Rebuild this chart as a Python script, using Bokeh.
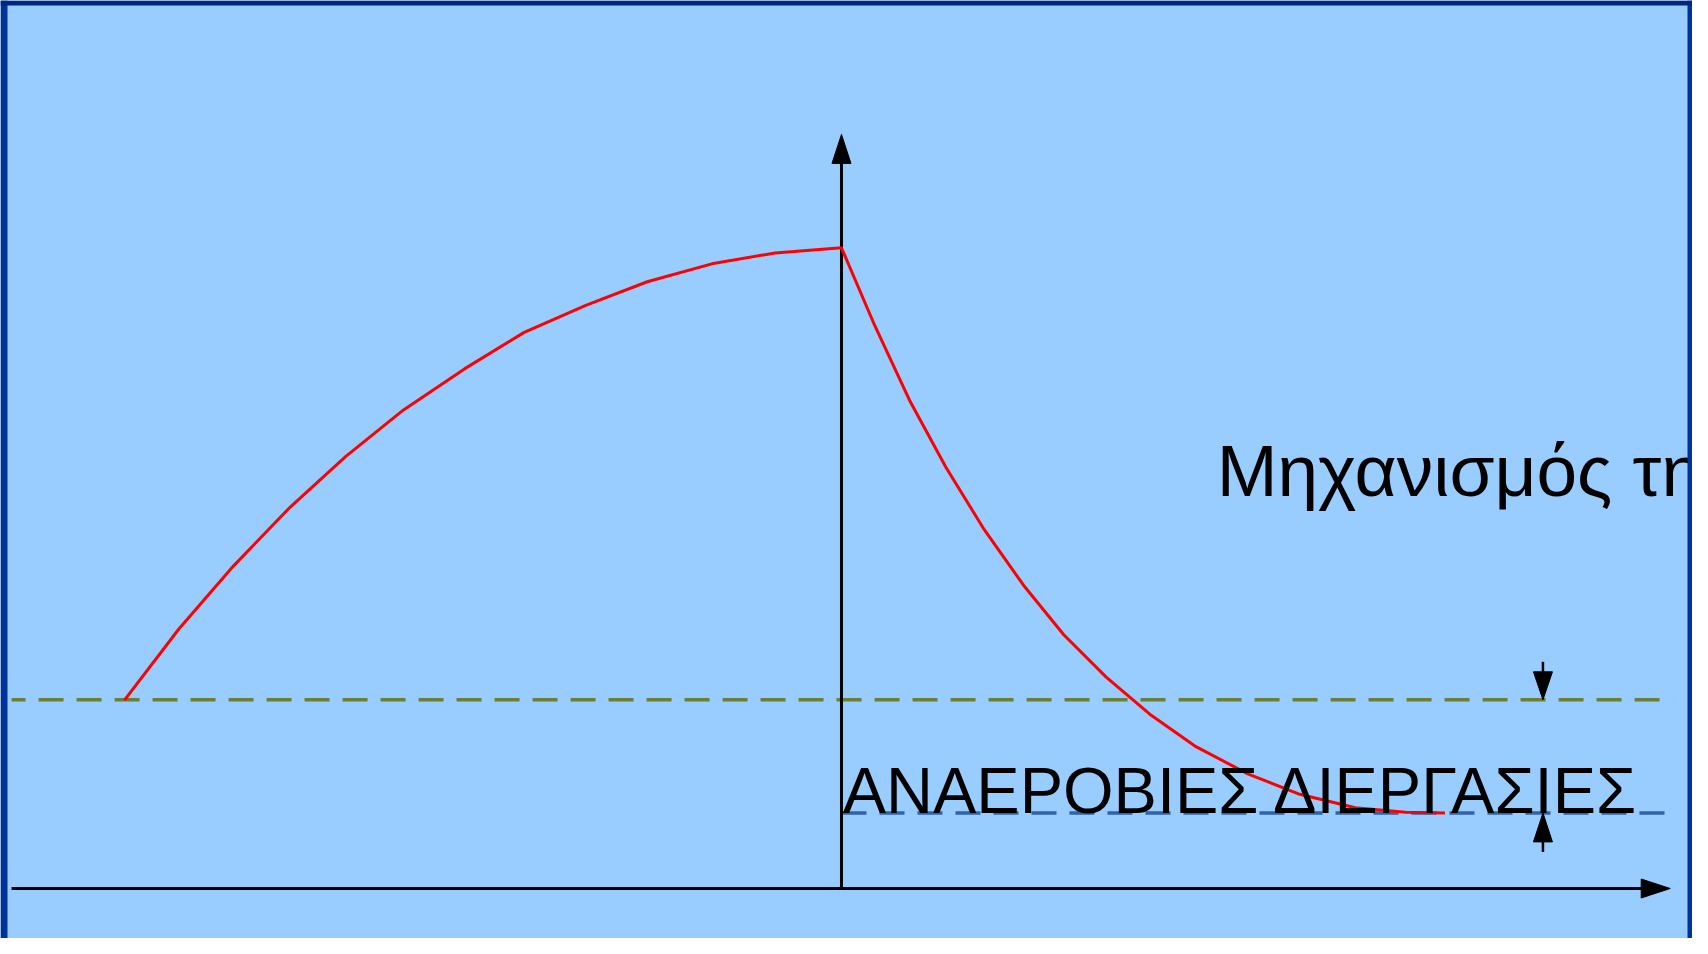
from bokeh.plotting import figure
from bokeh.models import Range1d, BoxAnnotation, ColumnDataSource
from bokeh.core.properties import value
from bokeh.embed import file_html
from bokeh.resources import INLINE

# ---------------- data ----------------
rise_time = [-12.00, -11.09, -10.17, -9.23, -8.30, -7.33, -6.31, -5.31, -4.28, -3.25, -2.17, -1.11, 0]
rise_level = [29.4, 40.5, 50.4, 59.5, 67.4, 74.7, 81.1, 86.8, 91.0, 94.7, 97.5, 99.2, 100.0]
fall_time = [0.56, 1.15, 1.75, 2.39, 3.05, 3.72, 4.43, 5.16, 5.94, 6.80, 7.67, 8.60, 9.44, 10.10]
fall_level = [87.8, 76.0, 65.7, 56.0, 47.3, 39.6, 33.0, 27.2, 22.1, 17.9, 14.7, 12.6, 11.9, 11.8]
upper_level = 29.45
lower_level = 11.8
title_label = "Μηχανισμός της"
band_label = "ΑΝΑΕΡΟΒΙΕΣ ΔΙΕΡΓΑΣΙΕΣ"

# ---------------- layout ----------------
W, H = 1692, 938
X0, X1 = -14.075, 14.243
Y0, Y1 = -7.804, 138.60
PXX = W / (X1 - X0)   # px per x unit
PXY = H / (Y1 - Y0)   # px per y unit

axis_x_start, axis_x_tip = -13.89, 13.87
axis_y_tip = 117.7
dash_x_end = 13.91
marker_x = 11.74

BG = "#99CCFF"
p = figure(width=W, height=H, x_range=Range1d(X0, X1), y_range=Range1d(Y0, Y1),
           output_backend="svg", toolbar_location=None, min_border=0,
           x_axis_location=None, y_axis_location=None,
           background_fill_color=BG, border_fill_color=BG, outline_line_color=None)
p.grid.visible = False


def head(tx, ty, direction, length=29, width=19):
    L, Wd = length, width / 2
    if direction == "right":
        return [tx, tx - L / PXX, tx - L / PXX], [ty, ty + Wd / PXY, ty - Wd / PXY]
    if direction == "up":
        return [tx, tx - Wd / PXX, tx + Wd / PXX], [ty, ty - L / PXY, ty - L / PXY]
    if direction == "down":
        return [tx, tx - Wd / PXX, tx + Wd / PXX], [ty, ty + L / PXY, ty + L / PXY]


# dashed levels
p.line([axis_x_start, dash_x_end], [upper_level, upper_level], line_color="#6B7F37",
       line_width=3.5, line_dash="25 13", line_dash_offset=11)
p.line([0, dash_x_end], [lower_level, lower_level], line_color="#3163AA",
       line_width=3.5, line_dash="25 13")

# axes
p.line([axis_x_start, axis_x_tip - 28 / PXX], [0, 0], line_color="black", line_width=3)
p.line([0, 0], [0, axis_y_tip - 28 / PXY], line_color="black", line_width=3)
hx, hy = head(axis_x_tip, 0, "right")
vx, vy = head(0, axis_y_tip, "up")
p.patches([hx, vx], [hy, vy], fill_color="black", line_color="black", line_width=1)

# curve
src = ColumnDataSource(dict(t=rise_time + fall_time, v=rise_level + fall_level))
p.line("t", "v", source=src, line_color="#FF0000", line_width=3)

# threshold markers
dx, dy = head(marker_x, upper_level, "down", 28, 19)
ux, uy = head(marker_x, lower_level, "up", 29, 19)
p.patches([dx, ux], [dy, uy], fill_color="black", line_color="black", line_width=1)
p.line([marker_x, marker_x], [upper_level + 28 / PXY, upper_level + 38 / PXY],
       line_color="black", line_width=2.5)
p.line([marker_x, marker_x], [lower_level - 29 / PXY, lower_level - 39 / PXY],
       line_color="black", line_width=2.5)

# labels (raised to compensate the renderer's baseline placement)
p.text(x=[6.28], y=[60.71 + 29 / PXY], text=[title_label], text_font=value("Liberation Sans"),
       text_font_size="73px", text_color="black", text_align="left",
       text_baseline="alphabetic")
p.text(x=[0.02], y=[lower_level + 22 / PXY], text=[band_label], text_font=value("Liberation Sans"),
       text_font_size="65px", text_color="black", text_align="left",
       text_baseline="alphabetic")

# frame borders
p.add_layout(BoxAnnotation(left=X0, right=X0 + 7 / PXX, fill_color="#003399",
                           fill_alpha=1, line_color=None))
p.add_layout(BoxAnnotation(left=X1 - 5 / PXX, right=X1, fill_color="#003399",
                           fill_alpha=1, line_color=None))
p.add_layout(BoxAnnotation(bottom=Y1 - 5 / PXY, top=Y1, fill_color="#00287F",
                           fill_alpha=1, line_color=None))

open("out.html", "w").write(file_html(p, INLINE))
